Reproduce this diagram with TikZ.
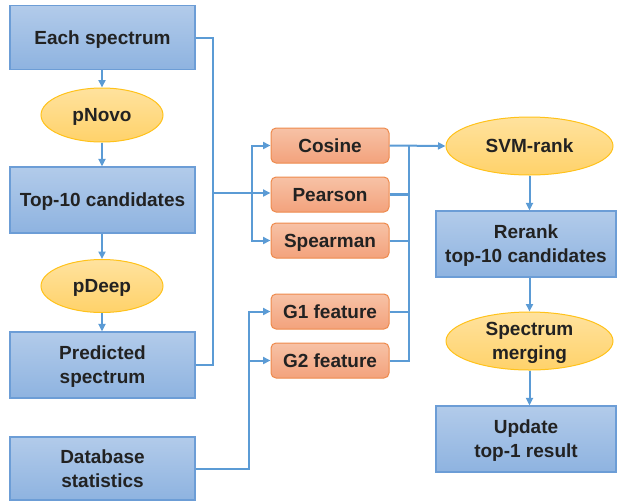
\documentclass[tikz,border=0pt]{standalone}
\usepackage{fontspec}
\setmainfont{Liberation Sans}
\usetikzlibrary{shapes.geometric,arrows.meta,calc}
\definecolor{conn}{HTML}{5B9BD5}
\definecolor{bluetop}{HTML}{B2CBEA}
\definecolor{bluebot}{HTML}{8EB3E0}
\definecolor{blueline}{HTML}{6C9DD6}
\definecolor{yeltop}{HTML}{FFE29E}
\definecolor{yelbot}{HTML}{FFD26A}
\definecolor{yelline}{HTML}{FFC21A}
\definecolor{ortop}{HTML}{F7C2A6}
\definecolor{orbot}{HTML}{F3A27C}
\definecolor{orline}{HTML}{EE8A4C}
\definecolor{txt}{HTML}{222222}
\begin{document}
\begin{tikzpicture}[x=1pt,y=-1pt,
  every node/.style={font=\bfseries\fontsize{19}{24}\selectfont, text=txt, align=center, inner sep=0pt, text height=13.6pt, text depth=0pt},
  twoline/.style={text height=37.6pt, text depth=0pt},
  bluebox/.style={rectangle, draw=blueline, line width=1.2pt, top color=bluetop, bottom color=bluebot, minimum width=185pt, minimum height=64pt},
  yelell/.style={ellipse, draw=yelline, line width=1pt, top color=yeltop, bottom color=yelbot, minimum width=122pt, minimum height=54pt},
  bigell/.style={yelell, minimum width=167pt, minimum height=58pt},
  orbox/.style={rectangle, rounded corners=5pt, draw=orline, line width=1pt, top color=ortop, bottom color=orbot, minimum width=118pt, minimum height=35pt},
  wire/.style={draw=conn, line width=2pt},
  arr/.style={wire, -{Triangle[length=7.5pt,width=7pt]}}]
\useasboundingbox (0,0) rectangle (617,501);

% left column
\node[bluebox] (each) at (102.5,37.5) {Each spectrum};
\node[yelell] (pnovo) at (102,115) {pNovo};
\node[bluebox, minimum height=66pt] (top10) at (102.5,200) {Top-10 candidates};
\node[yelell, minimum height=53pt] (pdeep) at (102,286) {pDeep};
\node[bluebox, twoline, minimum height=66pt] (pred) at (102.5,365) {Predicted\\spectrum};
\node[bluebox, twoline, minimum height=63pt] (db) at (102.5,468.5) {Database\\statistics};

% features
\node[orbox] (cosine) at (330,145.5) {Cosine};
\node[orbox] (pearson) at (330,194.5) {Pearson};
\node[orbox] (spearman) at (330,240.5) {Spearman};
\node[orbox] (g1) at (330,311.5) {G1 feature};
\node[orbox] (g2) at (330,360.5) {G2 feature};

% right column
\node[bigell] (svm) at (529.5,146) {SVM-rank};
\node[bluebox, twoline, minimum width=180pt, minimum height=66pt] (rerank) at (526,244) {Rerank\\top-10 candidates};
\node[bigell, twoline] (merge) at (529.5,341) {Spectrum\\merging};
\node[bluebox, twoline, minimum width=180pt, minimum height=66pt] (update) at (526,439) {Update\\top-1 result};

% vertical flow
\draw[arr] (each.south -| pnovo) -- (pnovo.north);
\draw[arr] (pnovo.south) -- (pnovo.south |- top10.north);
\draw[arr] (top10.south -| pdeep) -- (pdeep.north);
\draw[arr] (pdeep.south) -- (pdeep.south |- pred.north);
\draw[arr] (svm.south) -- (svm.south |- rerank.north);
\draw[arr] (rerank.south -| merge) -- (merge.north);
\draw[arr] (merge.south) -- (merge.south |- update.north);

% left bus
\coordinate (jL) at (213,193);
\coordinate (jB) at (252,193);
\draw[wire] (each.east) -| (jL);
\draw[wire] (pred.east) -| (jL);
\draw[wire] (jL) -- (jB);
\draw[arr] (jB) |- (cosine.west);
\draw[arr] (jB) -- (jB -| pearson.west);
\draw[arr] (jB) |- (spearman.west);

% database bus
\coordinate (jD) at (249,360.5);
\draw[arr] (db.east) -| (jD) |- (g1.west);
\draw[arr] (jD) -- (g2.west);

% right bus
\coordinate (jR) at (409,145.5);
\draw[arr] (cosine.east) -- (svm.west);
\draw[wire] (jR) |- (g2.east);
\draw[wire, line width=2.6pt] (pearson.east) -- (pearson.east -| jR);
\draw[wire] (spearman.east) -- (spearman.east -| jR);
\draw[wire] (g1.east) -- (g1.east -| jR);
\end{tikzpicture}
\end{document}
